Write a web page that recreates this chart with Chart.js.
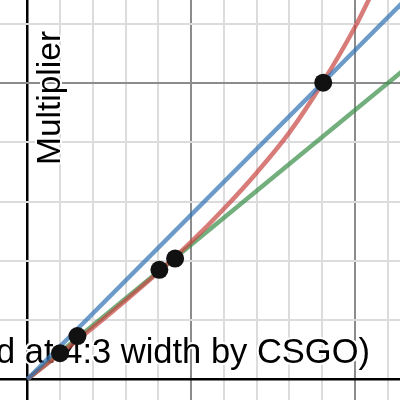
<!DOCTYPE html>
<html>
<head>
<meta charset="utf-8">
<script src="https://cdn.jsdelivr.net/npm/chart.js@4/dist/chart.umd.min.js"></script>
<style>
	html, body { margin: 0; padding: 0; background: #fff; }
	#wrap { width: 400px; height: 400px; }
</style>
</head>
<body>
<div id="wrap"><canvas id="chart" width="400" height="400"></canvas></div>
<script>
// values (x: one grid step = 1, y: one grid step = 1)
var redX = [0, 1, 2, 3, 4, 5, 6, 7, 8, 9, 10, 10.5];
var redY = [0, 0.43, 0.87, 1.33, 1.81, 2.32, 2.88, 3.49, 4.17, 5.0, 5.95, 6.5];

var blueX = [0, 11.5];
var blueY = [0, 6.39];

var greenX = [0, 11.5];
var greenY = [0, 5.23];

var dotX = [1.0, 1.53, 4.03, 4.51, 9.03];
var dotY = [0.44, 0.73, 1.85, 2.04, 5.01];

var xGrid = [0, 1, 2, 3, 4, 5, 6, 7, 8, 9, 10, 11];
var yGrid = [0, 1, 2, 3, 4, 5, 6];

var xTitle = 'd at 4:3 width by CSGO)';
var yTitle = 'Multiplier';

function toPoints(xs, ys) {
	return xs.map(function(x, i) {
		return { x: x, y: ys[i] };
	});
}

function gridColor(ctx) {
	var v = ctx.tick.value;
	if (v == 0) return '#000';
	if (v % 5 == 0) return '#8c8c8c';
	return '#dcdcdc';
}

function gridWidth(ctx) {
	return ctx.tick.value == 0 ? 2.5 : 2;
}

var labelPlugin = {
	id: 'labelPlugin',
	beforeDatasetsDraw: function(chart) {
		var c = chart.ctx;
		c.save();
		c.lineJoin = 'round';
		c.strokeStyle = '#fff';
		c.lineWidth = 4;
		c.fillStyle = '#000';
		c.textBaseline = 'alphabetic';

		c.font = '34.5px "Liberation Sans", Arial, sans-serif';
		c.textAlign = 'right';
		c.strokeText(xTitle, 370, 363);
		c.fillText(xTitle, 370, 363);

		c.font = '33.5px "Liberation Sans", Arial, sans-serif';
		c.translate(59.5, 165);
		c.rotate(-Math.PI / 2);
		c.textAlign = 'left';
		c.strokeText(yTitle, 0, 0);
		c.fillText(yTitle, 0, 0);
		c.restore();
	}
};

var lineStyle = {
	showLine: true,
	pointRadius: 0,
	borderWidth: 4.5,
	fill: false
};

new Chart(document.getElementById('chart').getContext('2d'), {
	type: 'scatter',
	data: {
		datasets: [
			Object.assign({
				label: 'green',
				data: toPoints(greenX, greenY),
				borderColor: 'rgba(56,140,70,0.7)',
				order: 4
			}, lineStyle),
			Object.assign({
				label: 'red',
				data: toPoints(redX, redY),
				borderColor: 'rgba(199,68,64,0.7)',
				cubicInterpolationMode: 'monotone',
				order: 3
			}, lineStyle),
			Object.assign({
				label: 'blue',
				data: toPoints(blueX, blueY),
				borderColor: 'rgba(45,112,179,0.7)',
				order: 2
			}, lineStyle),
			{
				label: 'points',
				data: toPoints(dotX, dotY),
				showLine: false,
				pointRadius: 9,
				pointBorderWidth: 0,
				backgroundColor: '#111',
				borderColor: '#111',
				order: 1
			}
		]
	},
	options: {
		responsive: false,
		maintainAspectRatio: false,
		animation: false,
		layout: { padding: 0, autoPadding: false },
		plugins: {
			legend: { display: false },
			tooltip: { enabled: false }
		},
		scales: {
			x: {
				type: 'linear',
				min: -0.833,
				max: 11.373,
				border: { display: false },
				grid: { color: gridColor, lineWidth: gridWidth, drawTicks: false },
				ticks: { display: false },
				afterBuildTicks: function(scale) {
					scale.ticks = xGrid.map(function(v) { return { value: v }; });
				}
			},
			y: {
				type: 'linear',
				min: -0.35,
				max: 6.407,
				border: { display: false },
				grid: { color: gridColor, lineWidth: gridWidth, drawTicks: false },
				ticks: { display: false },
				afterBuildTicks: function(scale) {
					scale.ticks = yGrid.map(function(v) { return { value: v }; });
				}
			}
		}
	},
	plugins: [labelPlugin]
});
</script>
</body>
</html>
